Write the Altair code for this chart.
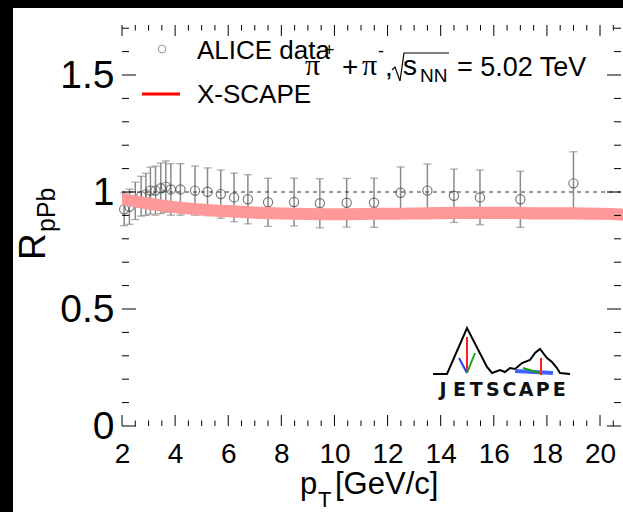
import altair as alt
import pandas as pd

# ---------------- data ----------------
pt = [2.08, 2.28, 2.5, 2.72, 2.9, 3.07, 3.26, 3.46, 3.65, 3.84, 4.2, 4.75, 5.22, 5.72,
      6.22, 6.74, 7.5, 8.48, 9.45, 10.46, 11.49, 12.49, 13.5, 14.5, 15.48, 17.0, 19.0]
rppb = [0.926, 0.937, 0.962, 0.982, 0.99, 1.006, 1.006, 1.016, 1.023, 1.011, 1.011, 1.006,
        1.001, 0.991, 0.977, 0.969, 0.956, 0.957, 0.952, 0.954, 0.954, 0.997, 1.006, 0.984,
        0.977, 0.969, 1.037]
err = [0.07, 0.075, 0.08, 0.085, 0.09, 0.1, 0.105, 0.108, 0.11, 0.11, 0.11, 0.105, 0.102,
       0.103, 0.104, 0.105, 0.103, 0.102, 0.105, 0.104, 0.105, 0.11, 0.114, 0.114, 0.117,
       0.12, 0.135]

model_pt = [2, 3, 4, 5, 6, 7, 8, 9, 10, 11, 12, 13, 14, 15, 16, 17, 18, 19, 20, 21]
model_r = [0.970, 0.950, 0.935, 0.925, 0.918, 0.912, 0.908, 0.906, 0.905, 0.906, 0.907,
           0.908, 0.910, 0.911, 0.911, 0.910, 0.909, 0.909, 0.907, 0.903]
model_halfwidth = [0.026] * len(model_pt)

x_major = [2, 4, 6, 8, 10, 12, 14, 16, 18, 20]
x_minor = [v / 2 for v in range(5, 42) if v % 4 != 0]
y_major = [0, 0.5, 1, 1.5]
y_minor = [round(v / 10, 1) for v in range(1, 18) if v % 5 != 0]

# logo (decoration, pixel coordinates)
logo_x = [311, 325, 345, 365, 370, 378, 383, 388, 393, 400, 408, 413, 418, 425, 430, 435, 438, 448]
logo_y = [349, 349, 303, 342, 348, 345, 347, 343, 344, 338, 335, 328, 324, 333, 337, 343, 348, 349]
logo_letters = list("JETSCAPE")

# ---------------- layout ----------------
W, H = 499, 401
XMIN, XMAX = 2.0, 20.79
YMIN, YMAX = 0.0, 1.7137
FONT = "Liberation Sans"

xs = alt.Scale(domain=[XMIN, XMAX], nice=False, zero=False)
ys = alt.Scale(domain=[YMIN, YMAX], nice=False, zero=False)
xaxis = alt.Axis(values=x_major, labelFont=FONT, labelFontSize=28, labelColor="black",
                 ticks=False, domain=False, grid=False, labelPadding=14,
                 labelFlush=False, labelOverlap=False, title=None, zindex=2)
yaxis = alt.Axis(values=y_major, labelFont=FONT, labelFontSize=39, labelColor="black",
                 ticks=False, domain=False, grid=False, labelPadding=8, format=".1~f",
                 labelOverlap=False, title=None, zindex=2)

data_df = pd.DataFrame({"pt": pt, "r": rppb, "err": err})
data_df["lo"] = data_df["r"] - data_df["err"]
data_df["hi"] = data_df["r"] + data_df["err"]
model_df = pd.DataFrame({"pt": model_pt, "r": model_r, "hw": model_halfwidth})
model_df["lo"] = model_df["r"] - model_df["hw"]
model_df["hi"] = model_df["r"] + model_df["hw"]


def X(f):
    return alt.X(f, type="quantitative", scale=xs, axis=xaxis)


def Y(f):
    return alt.Y(f, type="quantitative", scale=ys, axis=yaxis)


bg = alt.Chart(pd.DataFrame({"a": [0]})).mark_rect(color="white").encode(
    x=alt.value(-109), x2=alt.value(W + 10), y=alt.value(-17), y2=alt.value(H + 100))

bars = alt.Chart(data_df).mark_rule(color="#8a8a8a", strokeWidth=1.5).encode(
    x=X("pt"), y=Y("lo"), y2="hi")
caps_hi = alt.Chart(data_df).mark_tick(orient="horizontal", size=8, thickness=1.3,
                                       color="#8a8a8a").encode(x=X("pt"), y=Y("hi"))
caps_lo = alt.Chart(data_df).mark_tick(orient="horizontal", size=8, thickness=1.3,
                                       color="#8a8a8a").encode(x=X("pt"), y=Y("lo"))
points = alt.Chart(data_df).mark_point(shape="circle", filled=False, size=85,
                                       stroke="#444444", strokeWidth=1.2).encode(
    x=X("pt"), y=Y("r"))
band = alt.Chart(model_df).mark_area(color="#ff9999", interpolate="monotone").encode(
    x=X("pt"), y=Y("lo"), y2="hi")
unity = alt.Chart(pd.DataFrame({"one": [1.0]})).mark_rule(
    color="#333333", strokeWidth=1, strokeDash=[4, 4]).encode(y=Y("one"))

# ticks (inward, mirrored)
xmaj = pd.DataFrame({"v": x_major})
xmin_ = pd.DataFrame({"v": x_minor})
ymaj = pd.DataFrame({"v": y_major})
ymin_ = pd.DataFrame({"v": y_minor})
tk = dict(color="black", strokeWidth=1)
ticks = [
    alt.Chart(xmaj).mark_rule(**tk).encode(x=X("v"), y=alt.value(H), y2=alt.value(H - 11)),
    alt.Chart(xmaj).mark_rule(**tk).encode(x=X("v"), y=alt.value(0), y2=alt.value(11)),
    alt.Chart(xmin_).mark_rule(**tk).encode(x=X("v"), y=alt.value(H), y2=alt.value(H - 5.5)),
    alt.Chart(xmin_).mark_rule(**tk).encode(x=X("v"), y=alt.value(0), y2=alt.value(5.5)),
    alt.Chart(ymaj).mark_rule(**tk).encode(y=Y("v"), x=alt.value(0), x2=alt.value(14)),
    alt.Chart(ymaj).mark_rule(**tk).encode(y=Y("v"), x=alt.value(W), x2=alt.value(W - 14)),
    alt.Chart(ymin_).mark_rule(**tk).encode(y=Y("v"), x=alt.value(0), x2=alt.value(7)),
    alt.Chart(ymin_).mark_rule(**tk).encode(y=Y("v"), x=alt.value(W), x2=alt.value(W - 7)),
]

one = pd.DataFrame({"a": [0]})


def txt(s, x, y, size, font=FONT, angle=0, color="black", align="left", baseline="alphabetic", weight="normal"):
    kw = dict(align=align, baseline=baseline, font=font, fontSize=size, color=color,
              fontWeight=weight)
    if angle:
        kw["angle"] = angle
    return alt.Chart(one).mark_text(**kw).encode(
        x=alt.value(x), y=alt.value(y), text=alt.value(s))


texts = [
    # legend
    alt.Chart(one).mark_point(shape="circle", filled=False, size=60, stroke="#666666",
                              strokeWidth=1).encode(x=alt.value(40), y=alt.value(24)),
    txt("ALICE data", 75, 34, 26),
    alt.Chart(one).mark_rule(color="#ff0000", strokeWidth=3).encode(
        x=alt.value(20), x2=alt.value(58), y=alt.value(69)),
    txt("X-SCAPE", 75, 78, 26),
    # annotation
    txt("π", 183, 50, 30, font="Liberation Serif"),
    txt("+", 202, 31, 18),
    txt("+", 220, 51, 28),
    txt("π", 240, 50, 30, font="Liberation Serif"),
    txt("-", 256, 32, 18),
    txt(",", 263, 51, 28),
    txt("s", 281, 50, 28),
    txt("NN", 298, 57, 19),
    txt("= 5.02 TeV", 335, 51, 27),
    # y title
    txt("R", -77, 235, 37, angle=270),
    txt("pPb", -67, 207, 25, angle=270),
    # x title
    txt("p", 178, 469, 31),
    txt("T", 196, 482, 22),
    txt("[GeV/c]", 213, 469, 31),
]

rad_df = pd.DataFrame({"i": [0, 1, 2, 3, 4], "px": [270, 273, 278, 282, 327],
                       "py": [45, 42, 56, 28, 28]})
radical = alt.Chart(rad_df).mark_line(color="black", strokeWidth=1.2).encode(
    x=alt.X("px:Q", scale=None), y=alt.Y("py:Q", scale=None), order="i:Q")

logo_df = pd.DataFrame({"i": list(range(len(logo_x))), "px": logo_x, "py": logo_y})
logo = alt.Chart(logo_df).mark_line(color="black", strokeWidth=2).encode(
    x=alt.X("px:Q", scale=None), y=alt.Y("py:Q", scale=None), order="i:Q")


def seg(x1, y1, x2, y2, color, w=2):
    return alt.Chart(one).mark_rule(color=color, strokeWidth=w).encode(
        x=alt.value(x1), y=alt.value(y1), x2=alt.value(x2), y2=alt.value(y2))


logo_segs = [
    seg(345, 312, 345, 348, "#ff2020"),
    seg(337, 333, 345, 348, "#2040ff"),
    seg(353, 328, 345, 348, "#20a020"),
    seg(393, 346, 431, 348, "#4060ff", 4),
    seg(401, 343, 418, 348, "#20a020"),
    seg(419, 333, 419, 350, "#ff2020"),
]
letters_df = pd.DataFrame({"c": logo_letters,
                           "px": [321 + 16.6 * i for i in range(len(logo_letters))]})
logo_text = alt.Chart(letters_df).mark_text(font="DejaVu Sans", fontWeight="bold",
                                            fontSize=19, baseline="alphabetic",
                                            align="center", color="#111111").encode(
    x=alt.X("px:Q", scale=None), y=alt.value(371), text="c:N")

chart = alt.layer(
    bg, bars, caps_hi, caps_lo, points, band, unity, *ticks, *texts, radical,
    logo, *logo_segs, logo_text
).properties(
    width=W, height=H, background="black",
    padding={"left": 122, "top": 25, "right": 2, "bottom": 86},
    autosize=alt.AutoSizeParams(type="none"),
).configure_view(stroke="black", strokeWidth=1.2)

chart.save("out.html", embed_options={"renderer": "svg", "actions": False})
